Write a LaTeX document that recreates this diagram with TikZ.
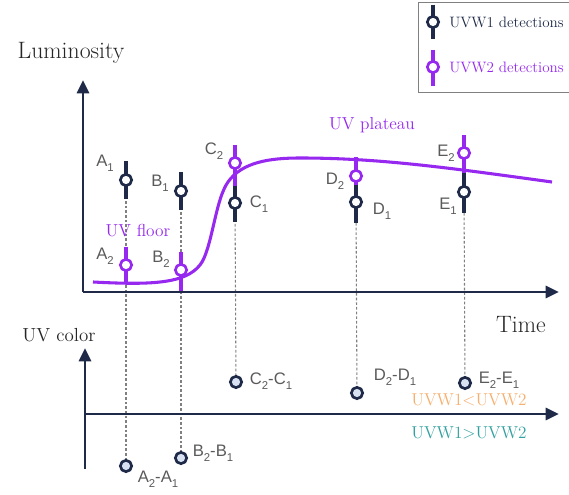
\documentclass[tikz,border=0pt]{standalone}
\usepackage{fontspec}
\newfontfamily\labfont{Liberation Sans}
\usetikzlibrary{arrows.meta}
\definecolor{navy}{RGB}{30,42,72}
\definecolor{uvpurple}{RGB}{150,40,240}
\definecolor{labgray}{RGB}{90,90,90}
\definecolor{uvorange}{RGB}{245,175,110}
\definecolor{uvteal}{RGB}{50,160,160}
\definecolor{fillblue}{RGB}{215,225,242}
\newcommand{\lsub}[1]{\raisebox{-0.55ex}{\fontsize{8.5}{9}\selectfont #1}}
\pgfdeclarelayer{bg}
\pgfsetlayers{bg,main}
\begin{document}
\begin{tikzpicture}[x=0.75pt,y=-0.75pt,
 axis/.style={line width=2.2pt,draw=navy,-{Triangle[length=10pt,width=9pt]}},
 wone/.style={circle,draw=navy,line width=2pt,fill=white,minimum size=8.5pt,inner sep=0pt},
 wtwo/.style={wone,draw=uvpurple},
 barone/.style={line width=2.3pt,draw=navy},
 bartwo/.style={line width=2.3pt,draw=uvpurple},
 guide/.style={draw=gray,line width=0.8pt,dash pattern=on 2pt off 1.5pt},
 diffpt/.style={circle,draw=navy,line width=2pt,fill=fillblue,minimum size=8.5pt,inner sep=0pt},
 lab/.style={font=\labfont\fontsize{12.5}{14}\selectfont,text=labgray,inner sep=1pt},
 big/.style={font=\fontsize{17.8}{20}\selectfont,text=black!85},
 mid/.style={font=\fontsize{13}{15}\selectfont},
 legtext/.style={font=\fontsize{11.3}{13}\selectfont,anchor=west,inner sep=0pt}]
\useasboundingbox (0,0) rectangle (569,495);
\clip (0,0) rectangle (569,495);

% legend
\draw[draw=gray,line width=0.6pt] (418,2) rectangle (580,92);
\node[wone] (lg1) at (433,22) {};
\node[wtwo] (lg2) at (433,67) {};
\begin{pgfonlayer}{bg}
\draw[barone] ([yshift=13pt]lg1.center) -- ([yshift=-13pt]lg1.center);
\draw[bartwo] ([yshift=13pt]lg2.center) -- ([yshift=-14pt]lg2.center);
\end{pgfonlayer}
\node[legtext,text=navy] (lt1) at (449,22) {UVW1 detections};
\node[legtext,text=uvpurple] (lt2) at (449,67) {UVW2 detections};

% axis titles
\node[big] (lum) at (71,53) {Luminosity};
\node[big] (time) at (521,325) {Time};
\node[font=\fontsize{14.2}{16}\selectfont,text=black!85] (uvc) at (59,335) {UV color};

% axes
\coordinate (o1) at (83,292);
\coordinate (ytop) at (83,80);
\coordinate (xend) at (559,292);
\coordinate (ybot) at (85,469);
\coordinate (ytop2) at (85,348);
\coordinate (o2) at (85,414);
\coordinate (xend2) at (559,414);

% light curve
\draw[draw=uvpurple,line width=2.3pt] (93,282) .. controls (150,285) and (185,284) .. (200,265)
  .. controls (212,250) and (215,200) .. (228,182)
  .. controls (242,162) and (270,158) .. (300,158)
  .. controls (380,158) and (450,168) .. (552,182);

% top markers
\node[wone] (a1) at (126,180) {};
\node[wtwo] (a2) at (126,265) {};
\node[wone] (b1) at (181,191) {};
\node[wtwo] (b2) at (181,270) {};
\node[wtwo] (c2) at (235,163) {};
\node[wone] (c1) at (235,203) {};
\node[wtwo] (d2) at (356,176) {};
\node[wone] (d1) at (356,202) {};
\node[wtwo] (e2) at (464,153) {};
\node[wone] (e1) at (464,192) {};

% bottom colour points
\node[diffpt] (ad) at (126,466) {};
\node[diffpt] (bd) at (181,458) {};
\node[diffpt] (cd) at (236,382) {};
\node[diffpt] (dd) at (357,393) {};
\node[diffpt] (ed) at (465,383) {};

\begin{pgfonlayer}{bg}
\draw[guide] (a1) -- (ad);
\draw[guide] (b1) -- (bd);
\draw[guide] (c1) -- (cd);
\draw[guide] (d1) -- (dd);
\draw[guide] (e1) -- (ed);
\draw[bartwo] ([yshift=13.5pt]a2.center) -- ([yshift=-13.5pt]a2.center);
\draw[bartwo] ([yshift=13.5pt]b2.center) -- ([yshift=-16pt]b2.center);
\draw[bartwo] ([yshift=13.5pt]c2.center) -- (c1.center);
\draw[bartwo] ([yshift=14pt]d2.center) -- (d1.center);
\draw[bartwo] ([yshift=13.5pt]e2.center) -- (e1.center);
\draw[barone] ([yshift=14pt]a1.center) -- ([yshift=-14pt]a1.center);
\draw[barone] ([yshift=14pt]b1.center) -- ([yshift=-14pt]b1.center);
\draw[barone] ([yshift=13pt]c1.center) -- ([yshift=-14pt]c1.center);
\draw[barone] ([yshift=13pt]d1.center) -- ([yshift=-15.5pt]d1.center);
\draw[barone] ([yshift=14pt]e1.center) -- ([yshift=-15.5pt]e1.center);
\end{pgfonlayer}

\draw[axis] (o1) -- (ytop);
\draw[axis] (o1) -- (xend);
\draw[axis] (ybot) -- (ytop2);
\draw[axis] (o2) -- (xend2);

% point labels
\node[lab] (la1) at (105,163) {A\lsub{1}};
\node[lab] (la2) at (105,256) {A\lsub{2}};
\node[lab] (lb1) at (160,183) {B\lsub{1}};
\node[lab] (lb2) at (161,259) {B\lsub{2}};
\node[lab] (lc2) at (214,151) {C\lsub{2}};
\node[lab] (lc1) at (259,204) {C\lsub{1}};
\node[lab] (ld2) at (335,181) {D\lsub{2}};
\node[lab] (ld1) at (382,211) {D\lsub{1}};
\node[lab] (le2) at (446,153) {E\lsub{2}};
\node[lab] (le1) at (448,206) {E\lsub{1}};

\node[lab] (lad) at (158,479) {A\lsub{2}-A\lsub{1}};
\node[lab] (lbd) at (213,453) {B\lsub{2}-B\lsub{1}};
\node[lab] (lcd) at (271,381) {C\lsub{2}-C\lsub{1}};
\node[lab] (ldd) at (395,377) {D\lsub{2}-D\lsub{1}};
\node[lab] (led) at (499,380) {E\lsub{2}-E\lsub{1}};

% annotations
\node[mid,text=uvpurple] (floor) at (138,231) {UV floor};
\node[mid,text=uvpurple] (plat) at (372,125) {UV plateau};
\node[font=\fontsize{12.9}{15}\selectfont,text=uvorange] (lt) at (469,400) {UVW1\textless UVW2};
\node[font=\fontsize{12.9}{15}\selectfont,text=uvteal] (gt) at (469,433) {UVW1\textgreater UVW2};
\end{tikzpicture}
\end{document}
